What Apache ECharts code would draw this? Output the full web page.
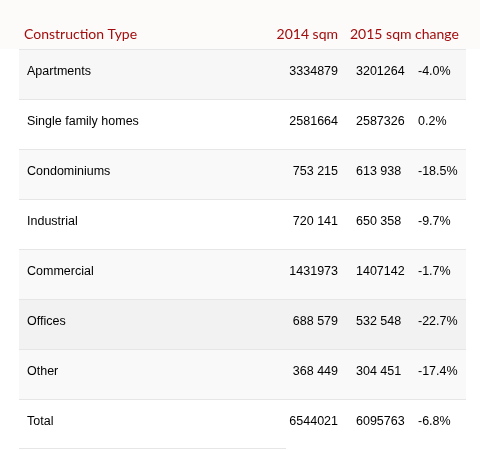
<!DOCTYPE html>
<html>
<head>
<meta charset="utf-8">
<script src="https://cdn.jsdelivr.net/npm/echarts@6/dist/echarts.min.js"></script>
<style>html,body{margin:0;padding:0;background:#fff}#main{width:480px;height:450px}</style>
</head>
<body>
<div id="main"></div>
<script>
const headers = ['Construction Type', '2014 sqm', '2015 sqm', 'change'];
const types = ['Apartments', 'Single family homes', 'Condominiums', 'Industrial', 'Commercial', 'Offices', 'Other', 'Total'];
const sqm2014 = ['3334879', '2581664', '753 215', '720 141', '1431973', '688 579', '368 449', '6544021'];
const sqm2015 = ['3201264', '2587326', '613 938', '650 358', '1407142', '532 548', '304 451', '6095763'];
const change = ['-4.0%', '0.2%', '-18.5%', '-9.7%', '-1.7%', '-22.7%', '-17.4%', '-6.8%'];

const rowFill = ['#f7f7f7', '#ffffff', '#f9f9f9', '#ffffff', '#f9f9f9', '#f2f2f2', '#f9f9f9', '#ffffff'];
const bodyFont = '12.5px "Liberation Sans", Arial, sans-serif';
const headFont = '14px Lato, "Noto Sans", sans-serif';
const red = '#a30d0d';

const chart = echarts.init(document.getElementById('main'));
chart.setOption({
    animation: false,
    backgroundColor: '#ffffff',
    grid: {left: 0, right: 0, top: 49, bottom: 1},
    xAxis: {type: 'value', min: 0, max: 480, show: false},
    yAxis: {type: 'category', data: types, inverse: true, show: false},
    graphic: [
        {type: 'rect', shape: {x: 0, y: 0, width: 480, height: 49}, style: {fill: '#fcfbfa'}, z: -1},
        {type: 'text', x: 24, y: 34, style: {text: headers[0], font: headFont, fill: red, verticalAlign: 'middle'}},
        {type: 'text', x: 338, y: 34, style: {text: headers[1], font: headFont, fill: red, align: 'right', verticalAlign: 'middle'}},
        {type: 'text', x: 350, y: 34, style: {text: headers[2], font: headFont, fill: red, verticalAlign: 'middle'}},
        {type: 'text', x: 415, y: 34, style: {text: headers[3], font: headFont, fill: red, verticalAlign: 'middle'}}
    ],
    series: [{
        type: 'custom',
        data: types.map((t, i) => [i]),
        encode: {y: 0},
        renderItem(params, api) {
            const i = api.value(0);
            const cy = api.coord([0, i])[1];
            const h = api.size([0, 1])[1];
            const top = cy - h / 2;
            const ty = top + 22.5;
            const txt = (s, x, align) => ({
                type: 'text',
                style: {text: s, x: x, y: ty, textAlign: align, textVerticalAlign: 'middle', font: bodyFont, fill: '#000'}
            });
            const children = [
                {type: 'rect', shape: {x: 19, y: top, width: 447, height: h}, style: {fill: rowFill[i]}},
                {type: 'line', shape: {x1: 19, y1: top + 0.5, x2: 466, y2: top + 0.5}, style: {stroke: '#e6e6e6', lineWidth: 1}},
                txt(types[i], 27, 'left'),
                txt(sqm2014[i], 338, 'right'),
                txt(sqm2015[i], 356, 'left'),
                txt(change[i], 418, 'left')
            ];
            if (i === types.length - 1) {
                children.push({type: 'line', shape: {x1: 19, y1: top + h - 0.5, x2: 286, y2: top + h - 0.5}, style: {stroke: '#e6e6e6', lineWidth: 1}});
            }
            return {type: 'group', children};
        }
    }]
});
</script>
</body>
</html>
